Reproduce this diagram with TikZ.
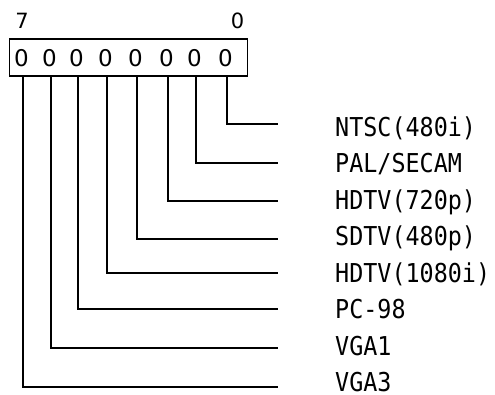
\documentclass[tikz,border=0pt]{standalone}
\usepackage{fontspec}
\newfontfamily\bitfont{DejaVu Sans}
\newfontfamily\labfont[FakeStretch=0.9]{DejaVu Sans Mono}
\begin{document}
\begin{tikzpicture}[x=1pt,y=-1pt,
  wire/.style={line width=1.5pt, line cap=rect},
  bitval/.style={font=\bitfont\fontsize{23}{23}\selectfont, inner sep=0pt, anchor=center},
  bitnum/.style={font=\bitfont\fontsize{21}{21}\selectfont, inner sep=0pt, anchor=center},
  lab/.style={font=\labfont\fontsize{26}{26}\selectfont, inner sep=0pt, anchor=base west}]
\useasboundingbox (0,0) rectangle (495,394);
% box
\node[draw, line width=1.5pt, minimum width=238pt, minimum height=37pt, inner sep=0pt, anchor=north west] (box) at (8.5,38) {};
% bit numbers
\node[bitnum] (n7) at (22,20.5) {7};
\node[bitnum] (n0) at (237.5,20.5) {0};
% bit values
\foreach \i/\x in {0/227,1/196,2/168,3/137,4/107,5/78,6/51,7/23} {
  \node[bitval] (b\i) at (\x-1.5,58) {0};
  \coordinate (t\i) at (\x,76);
}
% end points and labels
\foreach \i/\y/\t in {0/124/{NTSC(480i)},1/163/{PAL/SECAM},2/201/{HDTV(720p)},3/239/{SDTV(480p)},4/273/{HDTV(1080i)},5/309/{PC-98},6/348/{VGA1},7/387/{VGA3}} {
  \coordinate (e\i) at (277,\y);
  \node[lab] (l\i) at (335,127+36.43*\i+9.5) {\t};
}
\foreach \i in {0,...,7} {
  \draw[wire] (t\i |- box.south) |- (e\i);
}
\end{tikzpicture}
\end{document}
